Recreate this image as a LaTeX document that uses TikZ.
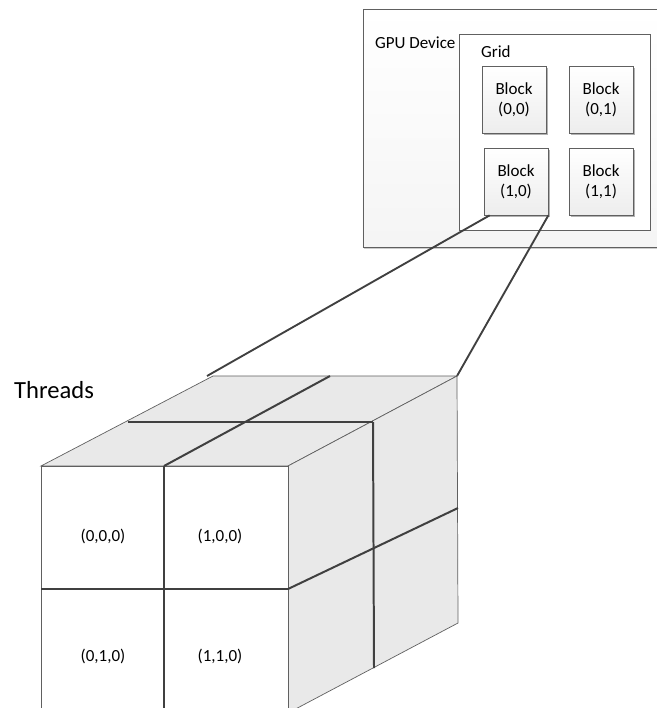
\documentclass[tikz,border=0pt]{standalone}
\usepackage{fontspec}
\setmainfont{Carlito}
\usetikzlibrary{shadows,calc}

\tikzset{
  outline/.style={draw=gray!75!black, line width=0.6pt},
  panel/.style={outline, inner sep=0pt},
  blockbox/.style={outline, top color=white, bottom color=gray!14, minimum width=1.92cm,
    minimum height=2.01cm, inner sep=0pt, align=center, font=\smallfont,
    drop shadow={shadow xshift=0.05cm, shadow yshift=-0.05cm, fill=black, opacity=0.3}},
  face/.style={outline, fill=gray!17},
  divider/.style={draw=black!75, line width=1.7pt},
  link/.style={draw=black!75, line width=1.6pt},
  celltext/.style={font=\smallfont},
}
\newcommand{\smallfont}{\fontsize{14.5}{17}\selectfont}

\begin{document}
\begin{tikzpicture}[x=0.03cm, y=-0.03cm]
\clip (0,0) rectangle (657,708);
\fill[white] (0,0) rectangle (657,708);

% GPU device and grid
\node[panel, top color=white, bottom color=gray!8, minimum width=9.6cm, minimum height=7.14cm,
  drop shadow={shadow xshift=0.03cm, shadow yshift=-0.06cm, fill=black, opacity=0.2}] (gpu) at (523,128) {};
\node[anchor=base west, font=\smallfont] (gpulabel) at (371,49) {GPU Device};
\node[panel, fill=white, minimum width=5.73cm, minimum height=5.88cm] (grid) at (554.5,132) {};
\node[anchor=base west, font=\smallfont] (gridlabel) at (477,58) {Grid};

% Blocks
\node[blockbox] (b00) at (514,99.5) {Block\\(0,0)};
\node[blockbox] (b01) at (601,99.5) {Block\\(0,1)};
\node[blockbox] (b10) at (516,181.5) {Block\\(1,0)};
\node[blockbox] (b11) at (601,181.5) {Block\\(1,1)};

% Cube corners
\coordinate (fa) at (41,466);
\coordinate (fb) at (288,466);
\coordinate (fc) at (288,713);
\coordinate (fd) at (41,713);
\coordinate (ba) at (213,376);
\coordinate (bb) at (457,376);
\coordinate (bc) at (458,623);
\coordinate (linkend) at (207,376);

% Connectors from block (1,0) to the threads cube
\draw[link] ($(b10.south west)+(6,0)$) -- (linkend);
\draw[link] (b10.south east) -- (bb);

% Threads cube
\node[anchor=base west, font=\fontsize{21}{25}\selectfont] (threads) at (10,398) {Threads};
\draw[face] (fa) -- (fb) -- (bb) -- (ba) -- cycle;
\draw[face] (fb) -- (bb) -- (bc) -- (fc) -- cycle;
\draw[outline, fill=white] (fa) rectangle (fc);

% Cell dividers
\draw[divider] (164,466) -- (330,376);
\draw[divider] (128,422) -- (373,422);
\draw[divider] (373,422) -- (374,668);
\draw[divider] (288,589) -- (458,508);
\draw[divider] (41,589) -- (288,589);
\draw[divider] (164,466) -- (164,713);

% Thread indices
\node[celltext] (t000) at (103,536) {(0,0,0)};
\node[celltext] (t100) at (220,536) {(1,0,0)};
\node[celltext] (t010) at (103,656) {(0,1,0)};
\node[celltext] (t110) at (220,656) {(1,1,0)};
\end{tikzpicture}
\end{document}
